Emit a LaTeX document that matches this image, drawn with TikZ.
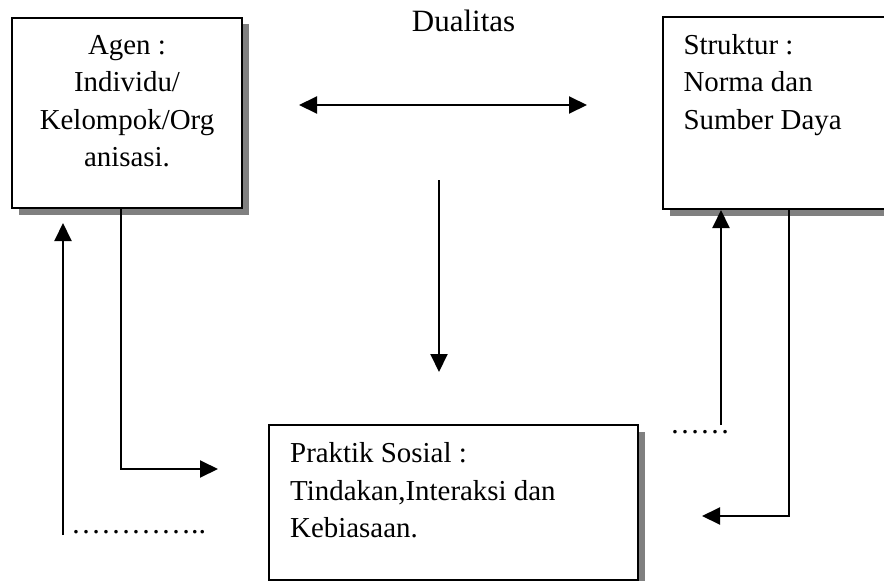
\documentclass[tikz,border=0pt]{standalone}
\usepackage{fontspec}
\setmainfont{Liberation Serif}
\usetikzlibrary{arrows.meta,shadows}
\definecolor{shadowgray}{HTML}{808080}
\begin{document}
\begin{tikzpicture}[x=1pt,y=-1pt,
  box/.style={draw=black, line width=2pt, fill=white, inner sep=0pt,
    drop shadow={shadow xshift=7pt, shadow yshift=-6.5pt, fill=shadowgray, opacity=1}},
  arr/.style={line width=2pt, >={Triangle[length=18pt,width=17pt]}},
  lbl/.style={font=\fontsize{28.9}{37.5}\selectfont, inner sep=0pt},
  ctr/.style={lbl, anchor=base},
  lft/.style={lbl, anchor=base west},
  dotrow/.style={font=\fontsize{30}{36}\selectfont, inner sep=0pt, anchor=base west}]
\useasboundingbox (0,0) rectangle (884,581);
\clip (0,0) rectangle (884,581);

% boxes
\node[box, minimum width=229.5pt, minimum height=190.8pt] (agen) at (126.75,112.9) {};
\node[box, minimum width=237pt, minimum height=192.2pt] (struk) at (781.5,112.9) {};
\node[box, minimum width=369pt, minimum height=154.5pt] (prak) at (453.5,502.25) {};

% box texts
\node[ctr] (agen1) at (127,54) {Agen :};
\node[ctr] (agen2) at (127,91.5) {Individu/};
\node[ctr] (agen3) at (127,129) {Kelompok/Org};
\node[ctr] (agen4) at (127,166.5) {anisasi.};

\node[lft] (struk1) at (683.3,54) {Struktur :};
\node[lft] (struk2) at (683.3,91.5) {Norma dan};
\node[lft] (struk3) at (683.3,129) {Sumber Daya};

\node[lft] (prak1) at (290,462.5) {Praktik Sosial :};
\node[lft] (prak2) at (290,500) {Tindakan,Interaksi dan};
\node[lft] (prak3) at (290,537.5) {Kebiasaan.};

\node[anchor=base west, inner sep=0pt, font=\fontsize{31}{37}\selectfont] (dual) at (411.7,31.7) {Dualitas};

% duality arrows
\coordinate (dL) at (299,105);
\coordinate (dR) at (587,105);
\draw[arr, <->] (dL) -- (dR);
\coordinate (vTop) at (439,180);
\coordinate (vTip) at (439,372);
\draw[arr, ->] (vTop) -- (vTip);

% agent side
\coordinate (aBend) at (121,469);
\coordinate (aTip) at (218,469);
\draw[arr, ->] (agen.south -| aBend) -- (aBend) -- (aTip);
\coordinate (lFoot) at (63,535);
\coordinate (lTip) at (63,223);
\draw[arr, ->] (lFoot) -- (lTip);
\node[dotrow] (lDots) at (71,533) {…………..};

% structure side
\coordinate (rFoot) at (721,425);
\draw[arr, ->] (rFoot) -- (rFoot |- struk.south);
\node[dotrow] (rDots) at (670,433) {……};
\coordinate (sBend) at (789,516);
\coordinate (sTip) at (702,516);
\draw[arr, ->] (struk.south -| sBend) -- (sBend) -- (sTip);
\end{tikzpicture}
\end{document}
